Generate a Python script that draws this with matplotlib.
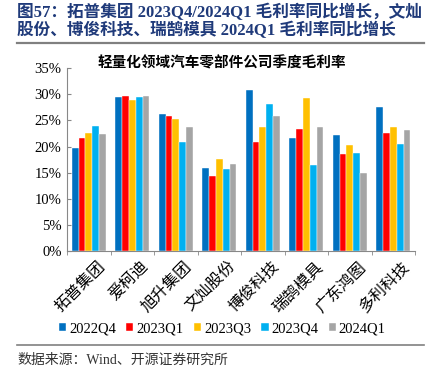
import numpy as np
import matplotlib
matplotlib.use("Agg")
import matplotlib.pyplot as plt
from matplotlib.lines import Line2D
from matplotlib.transforms import ScaledTranslation

plt.rcParams['font.family'] = ['Liberation Serif', 'Noto Sans CJK SC']

# Datos
empresas = ["拓普集团", "爱柯迪", "旭升集团", "文灿股份", "博俊科技", "瑞鹄模具", "广东鸿图", "多利科技"]
series = ["2022Q4", "2023Q1", "2023Q3", "2023Q4", "2024Q1"]
q2022q4 = [19.8, 29.5, 26.3, 15.9, 30.8, 21.6, 22.2, 27.5]
q2023q1 = [21.7, 29.6, 25.8, 14.3, 20.9, 23.4, 18.5, 22.6]
q2023q3 = [22.6, 28.9, 25.2, 17.6, 23.7, 29.2, 20.3, 23.7]
q2023q4 = [24.0, 29.4, 20.8, 15.8, 28.2, 16.4, 18.7, 20.5]
q2024q1 = [22.4, 29.7, 23.8, 16.6, 25.8, 23.7, 15.0, 23.1]
colores = ["#0070C0", "#FF0000", "#FFC000", "#00B0F0", "#A5A5A5"]

valores = [q2022q4, q2023q1, q2023q3, q2023q4, q2024q1]

fig = plt.figure(figsize=(4.36, 3.76), dpi=100)
ax = fig.add_axes([0.154, 0.332, 0.798, 0.487])

x = np.arange(len(empresas))
ancho = 0.156
for i, (nombre, vals) in enumerate(zip(series, valores)):
    ax.bar(x + (i - 2) * ancho, vals, ancho, color=colores[i], label=nombre,
           edgecolor="white", linewidth=0.3)

ax.set_xlim(-0.5, len(empresas) - 0.5)
ax.set_ylim(0, 35)
ax.set_yticks(range(0, 36, 5))
ax.set_yticklabels([f"{v}%" for v in range(0, 36, 5)], fontsize=10.5)
ax.tick_params(axis="y", direction="in", length=3, color="#888888", pad=4)

ax.set_xticks(x)
ax.set_xticklabels(empresas, rotation=45, ha="right", rotation_mode="anchor",
                   fontsize=11.5, family=["Noto Sans CJK SC"])
ax.tick_params(axis="x", length=0, pad=5)
desplazar = ScaledTranslation(8 / 100, 0, fig.dpi_scale_trans)
for etiqueta in ax.get_xticklabels():
    etiqueta.set_transform(etiqueta.get_transform() + desplazar)
ax.set_xticks(np.arange(-0.5, len(empresas)), minor=True)
ax.tick_params(axis="x", which="minor", direction="out", length=3, color="#888888")

for s in ["top", "right"]:
    ax.spines[s].set_visible(False)
for s in ["left", "bottom"]:
    ax.spines[s].set_color("#888888")

fig.text(0.51, 0.835, "轻量化领域汽车零部件公司季度毛利率", ha="center", va="center",
         fontsize=10.5, fontweight="bold", family=["Noto Sans CJK SC"])

# Encabezado
azul = "#1F3A7A"
fig.text(0.04, 0.968, "图57：拓普集团 2023Q4/2024Q1 毛利率同比增长，文灿",
         ha="left", va="center", fontsize=12, fontweight="bold", color=azul)
fig.text(0.04, 0.918, "股份、博俊科技、瑞鹄模具 2024Q1 毛利率同比增长",
         ha="left", va="center", fontsize=12, fontweight="bold", color=azul)
fig.add_artist(Line2D([0.04, 0.972], [0.886, 0.886], color="#808080", linewidth=1.6))
fig.add_artist(Line2D([0.04, 0.972], [0.083, 0.083], color="#808080", linewidth=1.2))

fig.legend(loc="center", bbox_to_anchor=(0.51, 0.125), ncol=5, frameon=False,
           fontsize=10.5, handlelength=0.5, handleheight=0.5, handletextpad=0.2,
           columnspacing=0.7)

fig.text(0.04, 0.043, "数据来源：Wind、开源证券研究所", ha="left", va="center",
         fontsize=10, color="#333333")

plt.savefig("out.png", dpi=100)
plt.close()
